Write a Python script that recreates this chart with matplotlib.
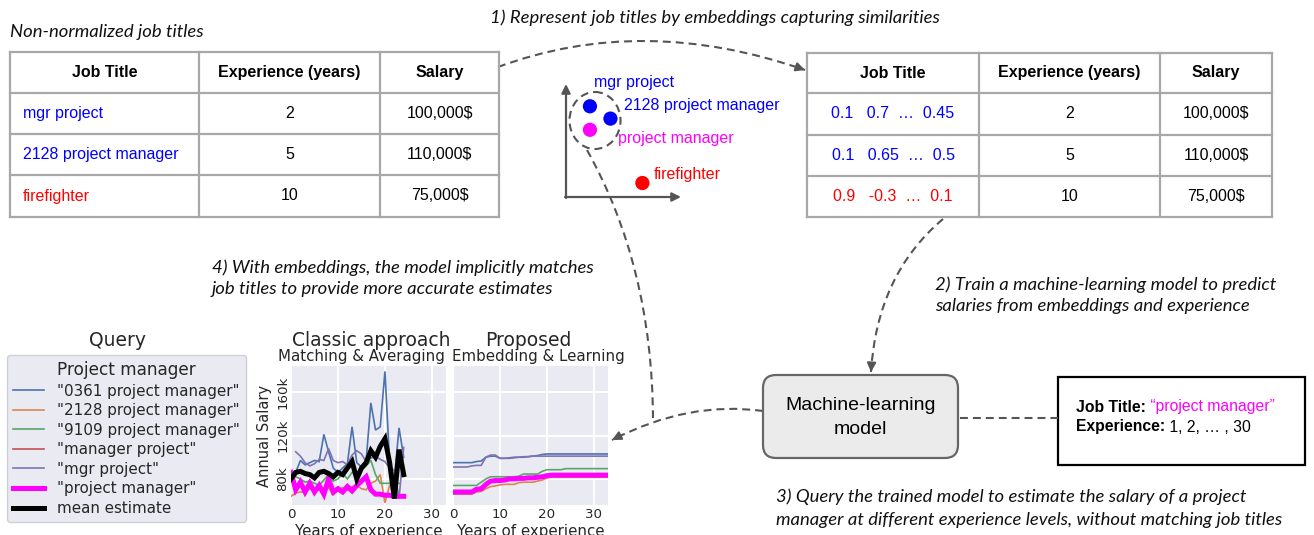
import matplotlib
matplotlib.use('Agg')
import matplotlib.pyplot as plt
import numpy as np
from matplotlib.patches import Rectangle, FancyBboxPatch, Ellipse, PathPatch
from matplotlib.path import Path

W, H = 1314, 535

# ---------------- data ----------------
table_headers = ["Job Title", "Experience (years)", "Salary"]
raw_titles = ["mgr project", "2128 project manager", "firefighter"]
title_colors = ["#0000FF", "#0000FF", "#FF0000"]
experience = ["2", "5", "10"]
salaries = ["100,000$", "110,000$", "75,000$"]
embeddings = ["0.1   0.7  \u2026  0.45", "0.1   0.65  \u2026  0.5", "0.9   -0.3  \u2026  0.1"]

emb_labels = ["mgr project", "2128 project manager", "project manager", "firefighter"]
emb_x = [0.21, 0.39, 0.21, 0.67]
emb_y = [0.81, 0.70, 0.60, 0.125]
emb_colors = ["#0000FF", "#0000FF", "#FF00FF", "#FF0000"]

series_names = ['"0361 project manager"', '"2128 project manager"', '"9109 project manager"',
                '"manager project"', '"mgr project"', '"project manager"', 'mean estimate']
series_colors = ['#4C72B0', '#DD8452', '#55A868', '#C44E52', '#8172B3', '#FF00FF', '#000000']

# Classic approach: matching & averaging (k$), years 0..24
classic_years = list(range(25))
classic_0361 = [80, 86, 97, 93, 95, 97, 96, 121, 105, 90, 86, 90, 94, 128, 95, 91, 97, 150, 125, 128, 179, 95, 80, 127, 100]
classic_2128 = [64, 67, 68, 68, 71, 70, 70, 68, 72, 65, 70, 72, 70, 73, 74, 71, 70, 76, 78, 84, 58, 74, None, None, None]
classic_9109 = [79, 82, 80, 77, 78, 76, 74, 79, 84, 78, 80, 85, 80, 86, 84, 88, 92, 97, 84, 76, 76, 76, 76, 76, None]
classic_manager_project = [84, 86, 87, 85, 84, None, None, None, None, None, None, None, None, None, None, None, None, None, None, None, None, None, None, None, None]
classic_mgr = [None, 105, 101, 95, 92, 94, 98, 97, 108, 97, 95, 96, 93, 102, 106, 103, 96, 99, 101, 98, 96, 90, 88, 62, 109]
classic_pm = [86, 70, 77, 68, 76, 68, 74, 66, 80, 68, 71, 68, 73, 69, 74, 78, 82, 70, 66, 66, 65, 65, 64, 64, 64]
classic_mean = [80, 86, 87, 85, 84, 81, 86, 87, 85, 82, 86, 84, 90, 96, 80, 90, 95, 106, 100, 110, 117, 95, 62, 107, 84]

# Proposed: embedding & learning (k$), years 0..33
prop_years = list(range(34))
prop_0361 = [95, 95, 95, 95, 95, 96, 96.5, 100, 101, 101, 99, 99, 99, 99.5, 100, 100, 100.5, 101, 101.5, 102.5,
             103, 103, 103, 103, 103, 103, 103, 103, 103, 103, 103, 103, 103, 103]
prop_2128 = [66, 66, 66, 66, 66, 68, 68.5, 71, 73, 73.5, 74.5, 75, 75, 75, 76.5, 77, 77, 77, 78, 79,
             81, 81.5, 81.5, 81.5, 81.5, 81.5, 81.5, 81.5, 81.5, 81.5, 81.5, 81.5, 81.5, 81.5]
prop_9109 = [74, 74, 74, 74, 74, 74, 77, 80, 82, 82, 82, 82, 82, 82, 82.5, 84.5, 84.5, 84.5, 84.5, 87,
             88.5, 88.5, 88.5, 88.5, 89.5, 89.5, 89.5, 89.5, 89.5, 89.5, 89.5, 89.5, 89.5, 89.5]
prop_manager_project = [67.8, 67.8, 67.8, 67.8, 67.8, 70.3, 70.8, 74.8, 77.8, 78.3, 78.3, 78.8, 79.8, 79.8, 80.3, 80.3, 80.8, 80.8, 81.3, 81.8,
                        82.8, 83.3, 83.3, 83.3, 83.3, 83.3, 83.3, 83.3, 83.3, 83.3, 83.3, 83.3, 83.3, 83.3]
prop_mgr = [91, 91, 91, 91, 92, 92.5, 92.5, 100, 102, 102, 99, 99, 99.5, 100, 100, 100.5, 100.5, 101, 101, 101,
            101, 101, 101, 101, 101, 101, 101, 101, 101, 101, 101, 101, 101, 101]
prop_pm = [68, 68, 68, 68, 68, 70.5, 71, 75, 78, 78.5, 78.5, 79, 80, 80, 80.5, 80.5, 81, 81, 81.5, 82,
           83, 83.5, 83.5, 83.5, 83.5, 83.5, 83.5, 83.5, 83.5, 83.5, 83.5, 83.5, 83.5, 83.5]

salary_ticks = [80, 120, 160]
salary_ticklabels = ["80k", "120k", "160k"]
year_ticks = [0, 10, 20, 30]

# ---------------- styling ----------------
TFONT = 'Liberation Sans'
IFONT = 'Lato'
CFONT = 'DejaVu Sans'
DASH = '#555555'
GRID = '#A8A8A8'
TXT = '#262626'
DASHSTYLE = (0, (3.8, 2.4))

fig = plt.figure(figsize=(W / 100, H / 100), dpi=100)
fig.patch.set_facecolor('white')
ov = fig.add_axes([0, 0, 1, 1])
ov.set_xlim(0, W)
ov.set_ylim(H, 0)
ov.axis('off')


def rect(x0, y0, x1, y1):
    return [x0 / W, 1 - y1 / H, (x1 - x0) / W, (y1 - y0) / H]


def caption(x, y, s):
    ov.text(x, y, s, family=IFONT, style='italic', fontsize=13.3, ha='left', va='center', color='#111111')


def draw_table(cols, rows):
    for x in cols:
        ov.plot([x, x], [rows[0], rows[-1]], color=GRID, lw=1.6, solid_capstyle='projecting')
    for y in rows:
        ov.plot([cols[0], cols[-1]], [y, y], color=GRID, lw=1.6, solid_capstyle='projecting')
    for j, hname in enumerate(table_headers):
        ov.text((cols[j] + cols[j + 1]) / 2, (rows[0] + rows[1]) / 2, hname, family=TFONT,
                weight='bold', fontsize=11.5, ha='center', va='center', color='black')


def qcurve(p0, p1, p2, arrow=True):
    path = Path([p0, p1, p2], [Path.MOVETO, Path.CURVE3, Path.CURVE3])
    ov.add_patch(PathPatch(path, fill=False, ec=DASH, lw=1.5, ls=DASHSTYLE))
    if arrow:
        d = np.array(p2, float) - np.array(p1, float)
        d = d / np.hypot(*d)
        start = np.array(p2, float) - d * 9
        ov.annotate('', xy=p2, xytext=tuple(start),
                    arrowprops=dict(arrowstyle='-|>', color=DASH, lw=1.5, mutation_scale=13,
                                    shrinkA=0, shrinkB=0))


# captions
caption(10, 32, "Non-normalized job titles")
caption(490, 18, "1) Represent job titles by embeddings capturing similarities")
caption(935, 285, "2) Train a machine-learning model to predict")
caption(935, 306, "salaries from embeddings and experience")
caption(212, 268, "4) With embeddings, the model implicitly matches")
caption(212, 289, "job titles to provide more accurate estimates")
caption(776, 497, "3) Query the trained model to estimate the salary of a project")
caption(776, 520, "manager at different experience levels, without matching job titles")

# left table
lcols = [10, 199, 380, 499]
lrows = [52, 93, 134, 175, 217]
draw_table(lcols, lrows)
for i in range(3):
    yc = (lrows[i + 1] + lrows[i + 2]) / 2
    ov.text(lcols[0] + 13, yc, raw_titles[i], family=TFONT, fontsize=11.5, color=title_colors[i],
            ha='left', va='center')
    ov.text((lcols[1] + lcols[2]) / 2, yc, experience[i], family=TFONT, fontsize=11.5, ha='center', va='center')
    ov.text((lcols[2] + lcols[3]) / 2, yc, salaries[i], family=TFONT, fontsize=11.5, ha='center', va='center')

# right table
rcols = [807, 979, 1160, 1272]
rrows = [53, 93, 135, 176, 217]
draw_table(rcols, rrows)
for i in range(3):
    yc = (rrows[i + 1] + rrows[i + 2]) / 2
    ov.text((rcols[0] + rcols[1]) / 2, yc, embeddings[i], family=TFONT, fontsize=11.5, color=title_colors[i],
            ha='center', va='center')
    ov.text((rcols[1] + rcols[2]) / 2, yc, experience[i], family=TFONT, fontsize=11.5, ha='center', va='center')
    ov.text((rcols[2] + rcols[3]) / 2, yc, salaries[i], family=TFONT, fontsize=11.5, ha='center', va='center')

# embedding sketch
ax_e = fig.add_axes(rect(566, 85, 680, 197))
ax_e.set_xlim(0, 1)
ax_e.set_ylim(0, 1)
ax_e.axis('off')
ax_e.patch.set_alpha(0)
ax_e.scatter(emb_x, emb_y, s=105, c=emb_colors, zorder=3, clip_on=False, linewidths=0)
emb_offsets = [(3, 17), (9.5, 9.5), (20, -6), (8, 6)]
for lab, x, y, c, off in zip(emb_labels, emb_x, emb_y, emb_colors, emb_offsets):
    ax_e.annotate(lab, (x, y), xytext=off, textcoords='offset points', family=TFONT, fontsize=11.5,
                  color=c, ha='left', va='center', annotation_clip=False)
ov.annotate('', xy=(566, 84), xytext=(566, 198),
            arrowprops=dict(arrowstyle='-|>', color=DASH, lw=1.6, mutation_scale=13, shrinkA=0, shrinkB=0))
ov.annotate('', xy=(681, 197), xytext=(565, 197),
            arrowprops=dict(arrowstyle='-|>', color=DASH, lw=1.6, mutation_scale=13, shrinkA=0, shrinkB=0))
ov.add_patch(Ellipse((595, 120.5), 51, 57, fill=False, ec=DASH, lw=1.5, ls=DASHSTYLE))

# connectors
qcurve((498, 67), (642.5, 13.5), (805, 70))
qcurve((943, 219), (877, 274.5), (871, 372))
qcurve((763, 411), (688.5, 400.5), (612, 440))
qcurve((587, 150), (652, 266), (653, 418), arrow=False)
ov.plot([960, 1058], [418, 418], color=DASH, lw=1.5, ls=DASHSTYLE)

# ML model box
ov.add_patch(FancyBboxPatch((763, 375), 195, 83, boxstyle="round,pad=0,rounding_size=13",
                            fc='#EBEBEB', ec='#666666', lw=1.6))
ov.text(860.5, 405, "Machine-learning", family=TFONT, fontsize=14, ha='center', va='center')
ov.text(860.5, 429, "model", family=TFONT, fontsize=14, ha='center', va='center')

# Query box
ov.add_patch(Rectangle((1058, 377), 247, 88, fc='white', ec='black', lw=1.6))
t1 = ov.text(1076, 407, "Job Title:", family=TFONT, weight='bold', fontsize=11.3, ha='left', va='center')
ov.annotate(" \u201cproject manager\u201d", xy=(1, 0), xycoords=t1, family=TFONT, fontsize=11.3,
            color='#FF00FF', ha='left', va='bottom')
t2 = ov.text(1076, 427, "Experience:", family=TFONT, weight='bold', fontsize=11.3, ha='left', va='center')
ov.annotate(" 1, 2, \u2026 , 30", xy=(1, 0), xycoords=t2, family=TFONT, fontsize=11.3,
            color='black', ha='left', va='bottom')

# ---------------- charts ----------------
def nanlist(v):
    return np.array([np.nan if a is None else a for a in v], float)


axc = fig.add_axes(rect(291, 366, 446, 505))
axp = fig.add_axes(rect(453, 366, 608, 505), sharey=axc)
for a in (axc, axp):
    a.set_facecolor('#EAEAF2')
    for s in a.spines.values():
        s.set_visible(False)
    a.grid(True, color='white', lw=1.4)
    a.set_axisbelow(True)
    a.set_xlim(0, 33)
    a.set_xticks(year_ticks)
    a.tick_params(length=0, labelsize=9.6, colors=TXT, pad=2.5)
    a.set_xlabel("Years of experience", family=CFONT, fontsize=10.8, color=TXT, labelpad=2)
axc.set_ylim(56, 184)
axc.set_yticks(salary_ticks)
axc.set_yticklabels(salary_ticklabels, rotation=90, va='center')
axc.tick_params(axis='y', pad=1)
axp.tick_params(labelleft=False)
axc.set_ylabel("Annual Salary", family=CFONT, fontsize=10.5, color=TXT, labelpad=3)

classic_series = [classic_0361, classic_2128, classic_9109, classic_manager_project, classic_mgr, classic_pm, classic_mean]
prop_series = [prop_0361, prop_2128, prop_9109, prop_manager_project, prop_mgr, prop_pm]
for k, (name, col, vals) in enumerate(zip(series_names, series_colors, classic_series)):
    thick = k >= 5
    axc.plot(classic_years, nanlist(vals), color=col, lw=3.6 if thick else 1.2, label=name,
             zorder=3 + k, solid_joinstyle='miter')
for k, (col, vals) in enumerate(zip(series_colors, prop_series)):
    thick = k >= 5
    axp.plot(prop_years, nanlist(vals), color=col, lw=3.6 if thick else 1.2, zorder=3 + k)

ov.text(371, 340, "Classic approach", family=CFONT, fontsize=13.5, color=TXT, ha='center', va='center')
ov.text(361, 356, "Matching & Averaging", family=CFONT, fontsize=10.8, color=TXT, ha='center', va='center')
ov.text(528, 340, "Proposed", family=CFONT, fontsize=13.5, color=TXT, ha='center', va='center')
ov.text(538, 356, "Embedding & Learning", family=CFONT, fontsize=10.8, color=TXT, ha='center', va='center')
ov.text(117, 340, "Query", family=CFONT, fontsize=13.5, color=TXT, ha='center', va='center')

leg = axc.legend(loc='upper left', bbox_to_anchor=(7 / W, 1 - 355 / H), bbox_transform=fig.transFigure,
                 borderaxespad=0, title="Project manager", title_fontsize=12.2,
                 prop={'family': CFONT, 'size': 10.9}, handlelength=2.05, handletextpad=0.86,
                 borderpad=0.4, labelspacing=0.30, fancybox=True, framealpha=1)
leg.get_frame().set_facecolor('#EAEAF2')
leg.get_frame().set_edgecolor('#CFCFD6')
for t in leg.get_texts():
    t.set_color(TXT)
leg.get_title().set_color(TXT)

fig.savefig('out.png', dpi=100)
